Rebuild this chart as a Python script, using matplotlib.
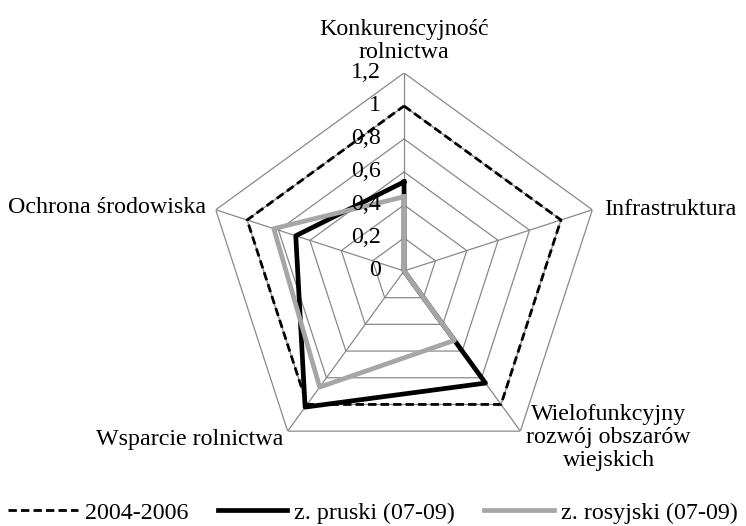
import numpy as np
import matplotlib
matplotlib.use('Agg')
import matplotlib.pyplot as plt

plt.rcParams['font.family'] = ['Liberation Serif', 'DejaVu Serif']

CATEGORIES = [
    'Konkurencyjność\nrolnictwa',
    'Infrastruktura',
    'Wielofunkcyjny\nrozwój obszarów\nwiejskich',
    'Wsparcie rolnictwa',
    'Ochrona środowiska',
]
BASE_2004_2006 = [1.0, 1.0, 1.0, 1.0, 1.0]
PRUSKI_07_09 = [0.54, 0.0, 0.84, 1.02, 0.69]
ROSYJSKI_07_09 = [0.45, 0.0, 0.52, 0.87, 0.83]
RTICKS = [0, 0.2, 0.4, 0.6, 0.8, 1.0, 1.2]
RTICK_LABELS = ['0', '0,2', '0,4', '0,6', '0,8', '1', '1,2']
SERIES_LABELS = ['2004-2006', 'z. pruski (07-09)', 'z. rosyjski (07-09)']

GRID_COLOR = '#898989'
FS = 17.3

n = len(CATEGORIES)
theta = np.arange(n) * 2 * np.pi / n
theta_closed = np.append(theta, theta[0])


def closed(vals):
    return np.append(vals, vals[0])


fig = plt.figure(figsize=(7.46, 5.26), dpi=100)
ax = fig.add_axes([0.2762, 0.1084, 0.5308, 0.7529], projection='polar')
ax.set_theta_offset(np.pi / 2)
ax.set_theta_direction(-1)
ax.set_ylim(0, 1.2)
ax.grid(False)
ax.spines['polar'].set_visible(False)
ax.set_xticks([])
ax.set_yticks([])
ax.patch.set_visible(False)

# pentagon grid and spokes
for r in RTICKS[1:]:
    ax.plot(theta_closed, [r] * (n + 1), color=GRID_COLOR, lw=0.9, zorder=1)
for t in theta:
    ax.plot([t, t], [0, RTICKS[-1]], color=GRID_COLOR, lw=0.9, zorder=1)

# series
ax.plot(theta_closed, closed(BASE_2004_2006), color='black', lw=2.0,
        dashes=(3.0, 1.5), label=SERIES_LABELS[0], zorder=3)
ax.plot(theta_closed, closed(PRUSKI_07_09), color='black', lw=3.4,
        label=SERIES_LABELS[1], zorder=4)
ax.plot(theta_closed, closed(ROSYJSKI_07_09), color='#A6A6A6', lw=3.4,
        label=SERIES_LABELS[2], zorder=5)

# radial tick labels along the top spoke
for r, lab in zip(RTICKS, RTICK_LABELS):
    ax.annotate(lab, xy=(0, r), xytext=(-23, 0), textcoords='offset pixels',
                ha='right', va='center', fontsize=FS, zorder=6)

# category labels
label_opts = [
    dict(xytext=(0, 10), ha='center', va='bottom'),
    dict(xytext=(12, 0), ha='left', va='center'),
    dict(xytext=(6, -6), ha='left', va='center'),
    dict(xytext=(-4, -8), ha='right', va='center'),
    dict(xytext=(-10, 2), ha='right', va='center'),
]
for t, lab, opt in zip(theta, CATEGORIES, label_opts):
    ax.annotate(lab, xy=(t, RTICKS[-1]), textcoords='offset pixels',
                fontsize=FS, multialignment='center', linespacing=1.12,
                annotation_clip=False, **opt)

leg = fig.legend(loc='center', bbox_to_anchor=(0.5, 1 - 513 / 526), ncol=3,
                 frameon=False, fontsize=FS, handlelength=2.9,
                 handletextpad=0.3, columnspacing=1.2, borderaxespad=0)

fig.savefig('out.png', dpi=100)
